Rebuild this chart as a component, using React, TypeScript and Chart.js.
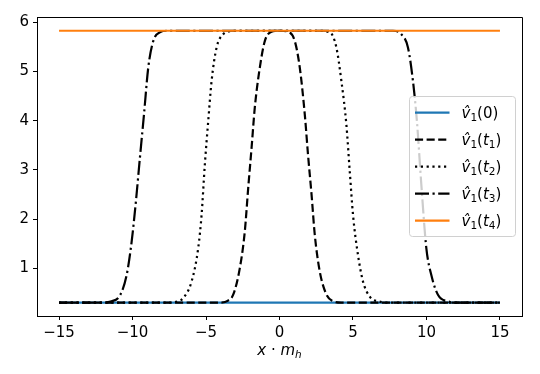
import { useEffect, useRef } from 'react';
import { Chart, registerables } from 'chart.js';

Chart.register(...registerables);

// ---- data ----
const xTickValues = [-15, -10, -5, 0, 5, 10, 15];
const yTickValues = [1, 2, 3, 4, 5, 6];

const v0X = [-15, 15];
const v0Y = [0.3, 0.3];

const t1X = [-15, -4, -3.5, -3.15, -2.7, -2.36, -2.13, -1.9, -1.68, -1.34, -1.0, -0.54, 0, 0.58, 1.04, 1.38, 1.72, 1.94, 2.18, 2.4, 2.74, 3.2, 3.64, 4.2, 15];
const t1Y = [0.3, 0.3, 0.34, 0.46, 1.0, 1.75, 2.63, 3.45, 4.27, 5.08, 5.62, 5.81, 5.83, 5.81, 5.62, 5.08, 4.13, 3.31, 2.5, 1.68, 0.93, 0.46, 0.33, 0.3, 0.3];

const t2X = [-15, -7.5, -6.9, -6.55, -5.98, -5.53, -5.3, -5.08, -4.85, -4.62, -4.28, -3.83, -3.38, -2.6, 2.6, 3.42, 3.87, 4.21, 4.55, 4.78, 5.0, 5.34, 5.68, 6.14, 6.8, 7.4, 15];
const t2Y = [0.3, 0.3, 0.33, 0.39, 0.73, 1.41, 2.09, 3.11, 3.99, 4.81, 5.49, 5.76, 5.82, 5.83, 5.83, 5.8, 5.49, 4.81, 3.92, 2.97, 2.09, 1.27, 0.73, 0.42, 0.32, 0.3, 0.3];

const t3X = [-15, -12, -11.5, -10.85, -10.4, -10.06, -9.77, -9.5, -9.22, -8.93, -8.59, -8.14, -7.6, 7.72, 8.29, 8.74, 9.08, 9.35, 9.65, 9.99, 10.33, 10.78, 11.5, 12, 15];
const t3Y = [0.3, 0.3, 0.32, 0.45, 0.86, 1.54, 2.36, 3.24, 4.13, 5.08, 5.62, 5.8, 5.83, 5.83, 5.76, 5.49, 4.81, 3.99, 2.7, 1.41, 0.86, 0.46, 0.32, 0.3, 0.3];

const t4X = [-15, 15];
const t4Y = [5.83, 5.83];

const seriesLabels = ['v\u0302\u2081(0)', 'v\u0302\u2081(t\u2081)', 'v\u0302\u2081(t\u2082)', 'v\u0302\u2081(t\u2083)', 'v\u0302\u2081(t\u2084)'];
const seriesArgs = ['0', 't1', 't2', 't3', 't4'];
const seriesColors = ['#1f77b4', '#000000', '#000000', '#000000', '#ff7f0e'];
const LW = 2.2;
const seriesDashes: number[][] = [[], [8.1, 3.5], [2.2, 3.6], [14, 3.5, 2.2, 3.5], []];

const FONT = '"DejaVu Sans", sans-serif';

type Part = { t: string; i?: boolean; sub?: boolean };

function partsFor(arg: string): Part[] {
  const p: Part[] = [{ t: 'v\u0302', i: true }, { t: '1', sub: true }, { t: '(' }];
  if (arg.startsWith('t')) {
    p.push({ t: 't', i: true });
    p.push({ t: arg.slice(1), sub: true });
  } else {
    p.push({ t: arg });
  }
  p.push({ t: ')' });
  return p;
}

function richWidth(ctx: CanvasRenderingContext2D, parts: Part[], size: number) {
  let w = 0;
  for (const p of parts) {
    const fs = p.sub ? size * 0.7 : size;
    ctx.font = `${p.i ? 'italic ' : ''}${fs}px ${FONT}`;
    w += ctx.measureText(p.t).width;
  }
  return w;
}

function drawRich(ctx: CanvasRenderingContext2D, parts: Part[], x: number, baseline: number, size: number) {
  let cx = x;
  ctx.textBaseline = 'alphabetic';
  ctx.textAlign = 'left';
  for (const p of parts) {
    const fs = p.sub ? size * 0.7 : size;
    ctx.font = `${p.i ? 'italic ' : ''}${fs}px ${FONT}`;
    ctx.fillText(p.t, cx, baseline + (p.sub ? size * 0.22 : 0));
    cx += ctx.measureText(p.t).width;
  }
}

const decorPlugin = {
  id: 'decor',
  afterDatasetsDraw(chart: any) {
    const { ctx, chartArea } = chart;
    const { left, right, top, bottom } = chartArea;
    ctx.save();
    // spines
    ctx.strokeStyle = '#000';
    ctx.lineWidth = 1;
    ctx.beginPath();
    ctx.rect(Math.round(left) + 0.5, Math.round(top) + 0.5, Math.round(right - left), Math.round(bottom - top));
    ctx.stroke();

    // legend
    const bx = 409.5, by = 96.5, bw = 106, bh = 140, r = 3;
    ctx.beginPath();
    ctx.moveTo(bx + r, by);
    ctx.lineTo(bx + bw - r, by);
    ctx.arcTo(bx + bw, by, bx + bw, by + r, r);
    ctx.lineTo(bx + bw, by + bh - r);
    ctx.arcTo(bx + bw, by + bh, bx + bw - r, by + bh, r);
    ctx.lineTo(bx + r, by + bh);
    ctx.arcTo(bx, by + bh, bx, by + bh - r, r);
    ctx.lineTo(bx, by + r);
    ctx.arcTo(bx, by, bx + r, by, r);
    ctx.closePath();
    ctx.fillStyle = 'rgba(255,255,255,0.8)';
    ctx.fill();
    ctx.strokeStyle = '#d0d0d0';
    ctx.lineWidth = 1;
    ctx.stroke();

    const size = 15;
    for (let k = 0; k < seriesArgs.length; k++) {
      const yMid = 112.7 + 27 * k;
      ctx.strokeStyle = seriesColors[k];
      ctx.lineWidth = LW;
      ctx.setLineDash(seriesDashes[k]);
      ctx.beginPath();
      ctx.moveTo(415, yMid);
      ctx.lineTo(449.5, yMid);
      ctx.stroke();
      ctx.setLineDash([]);
      ctx.fillStyle = '#000';
      drawRich(ctx, partsFor(seriesArgs[k]), 461.5, yMid + 5, size);
    }

    // x-axis title: x · m_h
    const titleParts: Part[] = [{ t: 'x', i: true }, { t: ' \u00b7 ' }, { t: 'm', i: true }, { t: 'h', i: true, sub: true }];
    const tw = richWidth(ctx, titleParts, size);
    ctx.fillStyle = '#000';
    drawRich(ctx, titleParts, (left + right) / 2 - tw / 2, 355, size);
    ctx.restore();
  },
};

function fmt(v: number) {
  return v < 0 ? '\u2212' + Math.abs(v) : String(v);
}

export default function App() {
  const ref = useRef<HTMLCanvasElement | null>(null);
  useEffect(() => {
    if (!ref.current) return;
    const mk = (xs: number[], ys: number[]) => xs.map((x, i) => ({ x, y: ys[i] }));
    const series = [mk(v0X, v0Y), mk(t1X, t1Y), mk(t2X, t2Y), mk(t3X, t3Y), mk(t4X, t4Y)];
    const chart = new Chart(ref.current, {
      type: 'line',
      data: {
        datasets: series.map((d, k) => ({
          label: seriesLabels[k],
          data: d,
          borderColor: seriesColors[k],
          backgroundColor: seriesColors[k],
          borderWidth: LW,
          borderDash: seriesDashes[k],
          pointRadius: 0,
          fill: false,
          cubicInterpolationMode: 'monotone' as const,
          order: 4 - k,
        })),
      },
      options: {
        animation: false,
        responsive: false,
        events: [],
        layout: { padding: { top: 17, right: 18, left: 0, bottom: 0 } },
        plugins: { legend: { display: false }, tooltip: { enabled: false } },
        scales: {
          x: {
            type: 'linear',
            min: -16.5,
            max: 16.5,
            afterBuildTicks: (s: any) => { s.ticks = xTickValues.map((v) => ({ value: v })); },
            afterFit: (s: any) => { s.height = 58; },
            grid: { drawOnChartArea: false, drawTicks: true, tickLength: 4, color: '#000', lineWidth: 1 },
            border: { color: '#000', width: 1 },
            ticks: { color: '#000', font: { family: FONT, size: 15 }, padding: 4, maxRotation: 0, autoSkip: false, callback: (v: any) => fmt(Number(v)) },
          },
          y: {
            type: 'linear',
            min: 0.027,
            max: 6.11,
            afterBuildTicks: (s: any) => { s.ticks = yTickValues.map((v) => ({ value: v })); },
            afterFit: (s: any) => { s.width = 37; },
            grid: { drawOnChartArea: false, drawTicks: true, tickLength: 4, color: '#000', lineWidth: 1 },
            border: { color: '#000', width: 1 },
            ticks: { color: '#000', font: { family: FONT, size: 15 }, padding: 4, autoSkip: false, callback: (v: any) => fmt(Number(v)) },
          },
        },
      },
      plugins: [decorPlugin],
    });
    return () => chart.destroy();
  }, []);
  return (
    <div style={{ position: 'absolute', left: 0, top: 0, width: 540, height: 374, background: '#fff' }}>
      <canvas ref={ref} width={540} height={374} style={{ width: 540, height: 374 }} />
    </div>
  );
}
